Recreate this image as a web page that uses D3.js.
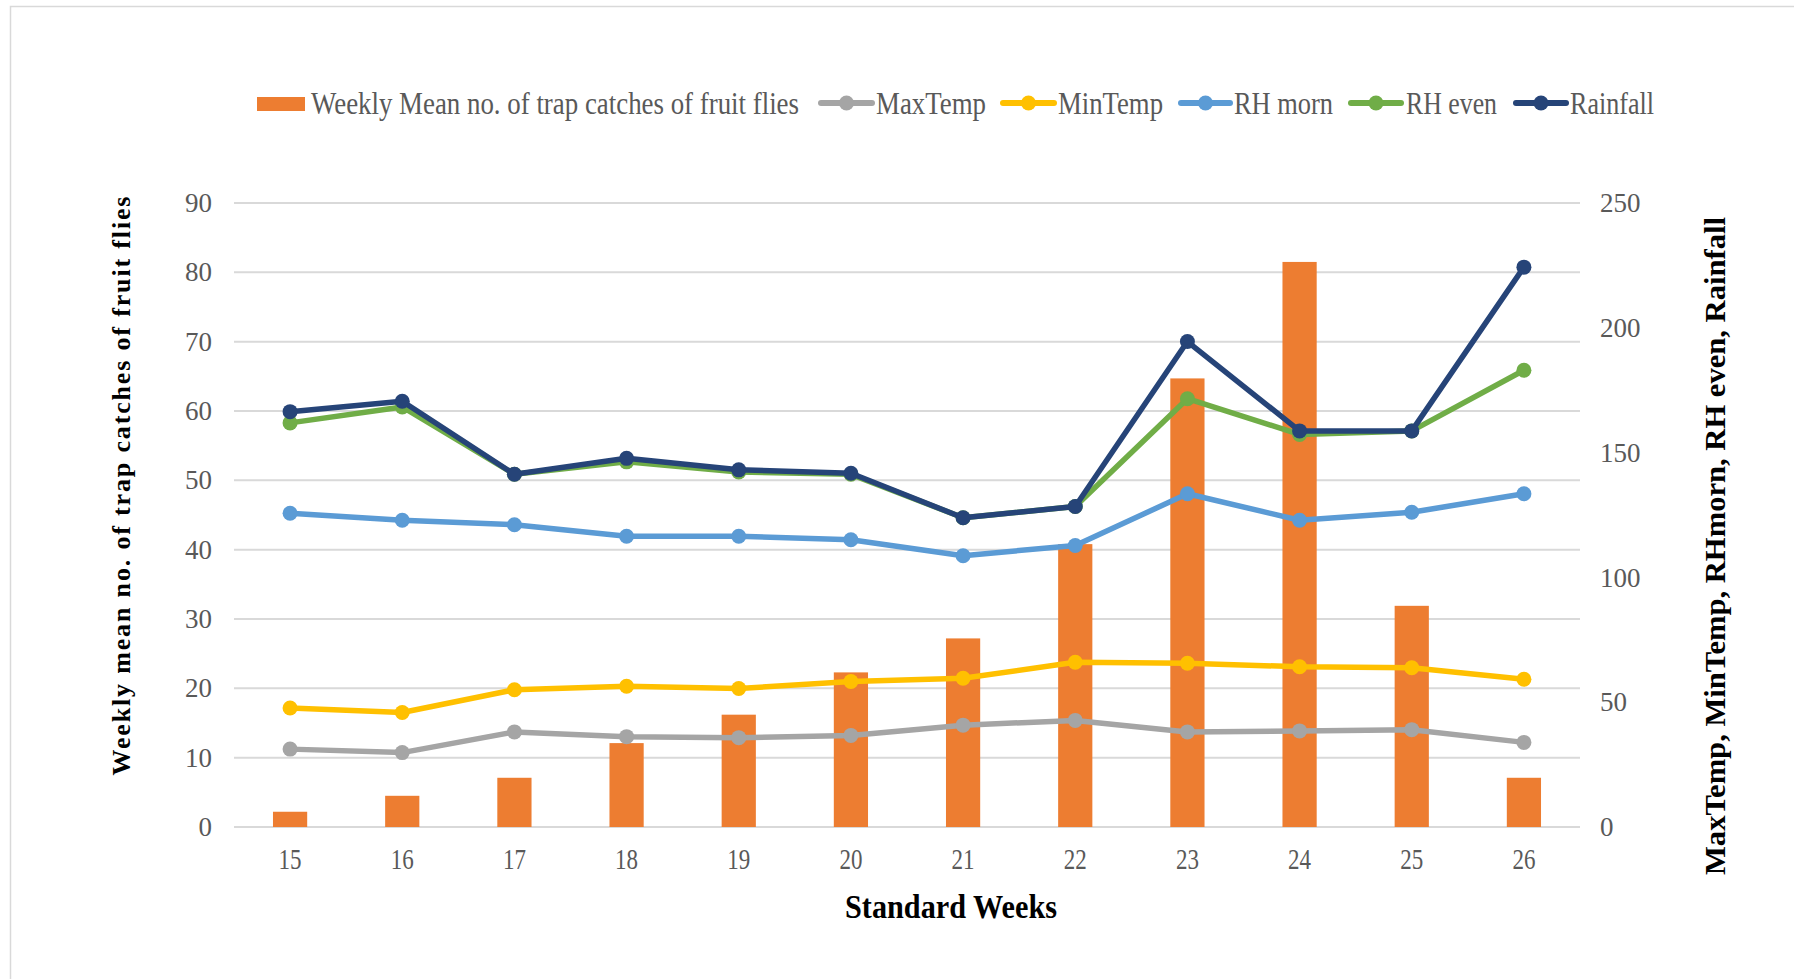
<!DOCTYPE html>
<html>
<head>
<meta charset="utf-8">
<script src="https://cdn.jsdelivr.net/npm/d3@7"></script>
<style>
  body { margin: 0; background: #fff; }
  svg { display: block; font-family: "Liberation Serif", "Times New Roman", serif; }
</style>
</head>
<body>
<svg id="chart" width="1794" height="979"></svg>
<script>
// chart values
const weeks = [15, 16, 17, 18, 19, 20, 21, 22, 23, 24, 25, 26];
const catches = [2.2, 4.5, 7.1, 12.1, 16.2, 22.3, 27.2, 40.8, 64.7, 81.5, 31.9, 7.1];
const maxTemp = [31.2, 29.8, 38.1, 36.2, 35.8, 36.7, 40.8, 42.7, 38.1, 38.5, 39.0, 33.9];
const minTemp = [47.7, 45.9, 55.0, 56.4, 55.5, 58.3, 59.6, 66.0, 65.6, 64.2, 63.8, 59.2];
const rhMorn = [125.7, 122.9, 121.1, 116.5, 116.5, 115.1, 108.7, 112.8, 133.5, 122.9, 126.1, 133.5];
const rhEven = [161.9, 168.3, 141.3, 146.3, 142.2, 141.3, 123.9, 128.4, 171.6, 157.3, 158.7, 183.0];
const rainfall = [166.4, 170.6, 141.3, 147.7, 143.1, 141.7, 123.9, 128.4, 194.5, 158.7, 158.7, 224.3];
const leftTicks = [0, 10, 20, 30, 40, 50, 60, 70, 80, 90];
const rightTicks = [0, 50, 100, 150, 200, 250];

const lineSeries = [
  { name: "MaxTemp", values: maxTemp, color: "#A5A5A5" },
  { name: "MinTemp", values: minTemp, color: "#FFC000" },
  { name: "RH morn", values: rhMorn, color: "#5B9BD5" },
  { name: "RH even", values: rhEven, color: "#70AD47" },
  { name: "Rainfall", values: rainfall, color: "#264478" }
];

const svg = d3.select("#chart");

// light frame around the figure
svg.append("rect")
  .attr("x", 10.5).attr("y", 6.5)
  .attr("width", 1900).attr("height", 1100)
  .attr("fill", "none").attr("stroke", "#d9d9d9").attr("stroke-width", 1.5);

const plot = { left: 234, right: 1580, top: 203, bottom: 827 };

const x = d3.scaleBand().domain(weeks).range([plot.left, plot.right]).padding(0);
const yLeft = d3.scaleLinear().domain([0, 90]).range([plot.bottom, plot.top]);
const yRight = d3.scaleLinear().domain([0, 250]).range([plot.bottom, plot.top]);

// gridlines (left axis ticks)
svg.append("g")
  .selectAll("line")
  .data(leftTicks)
  .enter()
  .append("line")
  .attr("x1", plot.left).attr("x2", plot.right)
  .attr("y1", (d) => yLeft(d)).attr("y2", (d) => yLeft(d))
  .attr("stroke", "#d9d9d9").attr("stroke-width", 2);

// left axis labels
const leftAxis = svg.append("g")
  .attr("transform", `translate(${plot.left}, 0)`)
  .call(d3.axisLeft(yLeft).tickValues(leftTicks).tickSize(0).tickPadding(22));
leftAxis.select(".domain").remove();
leftAxis.selectAll("text")
  .style("font-family", "Liberation Serif")
  .style("font-size", "27px").attr("fill", "#595959");

// right axis labels
const rightAxis = svg.append("g")
  .attr("transform", `translate(${plot.right}, 0)`)
  .call(d3.axisRight(yRight).tickValues(rightTicks).tickSize(0).tickPadding(20));
rightAxis.select(".domain").remove();
rightAxis.selectAll("text")
  .style("font-family", "Liberation Serif")
  .style("font-size", "27px").attr("fill", "#595959");

// bottom axis labels
const bottomAxis = svg.append("g")
  .attr("transform", `translate(0, ${plot.bottom})`)
  .call(d3.axisBottom(x).tickSize(0).tickPadding(21));
bottomAxis.select(".domain").remove();
bottomAxis.selectAll("text")
  .style("font-family", "Liberation Serif")
  .style("font-size", "29px").attr("fill", "#595959")
  .attr("textLength", 23).attr("lengthAdjust", "spacingAndGlyphs");

// bars
const barW = x.bandwidth() * 0.305;
svg.append("g")
  .selectAll("rect")
  .data(weeks)
  .enter()
  .append("rect")
  .attr("x", (d) => x(d) + x.bandwidth() / 2 - barW / 2)
  .attr("width", barW)
  .attr("y", (d, i) => yLeft(catches[i]))
  .attr("height", (d, i) => yLeft(0) - yLeft(catches[i]))
  .attr("fill", "#ED7D31");

// lines with markers
const line = d3.line()
  .x((d, i) => x(weeks[i]) + x.bandwidth() / 2)
  .y((d) => yRight(d));

lineSeries.forEach((s) => {
  const g = svg.append("g");
  g.append("path")
    .datum(s.values)
    .attr("d", line)
    .attr("fill", "none")
    .attr("stroke", s.color)
    .attr("stroke-width", 5.5)
    .attr("stroke-linejoin", "round")
    .attr("stroke-linecap", "round");
  g.selectAll("circle")
    .data(s.values)
    .enter()
    .append("circle")
    .attr("cx", (d, i) => x(weeks[i]) + x.bandwidth() / 2)
    .attr("cy", (d) => yRight(d))
    .attr("r", 7.5)
    .attr("fill", s.color);
});

// legend
const legendY = 103;
const legend = svg.append("g");
legend.append("rect")
  .attr("x", 257).attr("y", 97).attr("width", 48).attr("height", 14)
  .attr("fill", "#ED7D31");
legend.append("text")
  .attr("x", 311).attr("y", legendY).attr("dy", "0.35em")
  .attr("textLength", 488).attr("lengthAdjust", "spacingAndGlyphs")
  .style("font-size", "31px").attr("fill", "#595959")
  .text("Weekly Mean no. of trap catches  of fruit flies");

const legendLines = [
  { x0: 821, x1: 872, tx: 876, tw: 110 },
  { x0: 1003, x1: 1054, tx: 1058, tw: 105 },
  { x0: 1181, x1: 1230, tx: 1234, tw: 99 },
  { x0: 1351, x1: 1401, tx: 1406, tw: 91 },
  { x0: 1516, x1: 1566, tx: 1570, tw: 84 }
];
lineSeries.forEach((s, i) => {
  const p = legendLines[i];
  legend.append("line")
    .attr("x1", p.x0).attr("x2", p.x1)
    .attr("y1", legendY).attr("y2", legendY)
    .attr("stroke", s.color).attr("stroke-width", 6)
    .attr("stroke-linecap", "round");
  legend.append("circle")
    .attr("cx", (p.x0 + p.x1) / 2).attr("cy", legendY).attr("r", 7.5)
    .attr("fill", s.color);
  legend.append("text")
    .attr("x", p.tx).attr("y", legendY).attr("dy", "0.35em")
    .attr("textLength", p.tw).attr("lengthAdjust", "spacingAndGlyphs")
    .style("font-size", "31px").attr("fill", "#595959")
    .text(s.name);
});

// axis titles
svg.append("text")
  .attr("transform", "translate(130, 486) rotate(-90)")
  .attr("text-anchor", "middle")
  .attr("textLength", 579).attr("lengthAdjust", "spacing")
  .style("font-size", "26px").style("font-weight", "bold")
  .text("Weekly mean no. of trap catches of fruit flies");

svg.append("text")
  .attr("transform", "translate(1725, 546) rotate(-90)")
  .attr("text-anchor", "middle")
  .attr("textLength", 658).attr("lengthAdjust", "spacingAndGlyphs")
  .style("font-size", "29px").style("font-weight", "bold")
  .text("MaxTemp, MinTemp, RHmorn, RH even, Rainfall");

svg.append("text")
  .attr("x", 951).attr("y", 918)
  .attr("text-anchor", "middle")
  .attr("textLength", 212).attr("lengthAdjust", "spacingAndGlyphs")
  .style("font-size", "33px").style("font-weight", "bold")
  .text("Standard Weeks");
</script>
</body>
</html>
